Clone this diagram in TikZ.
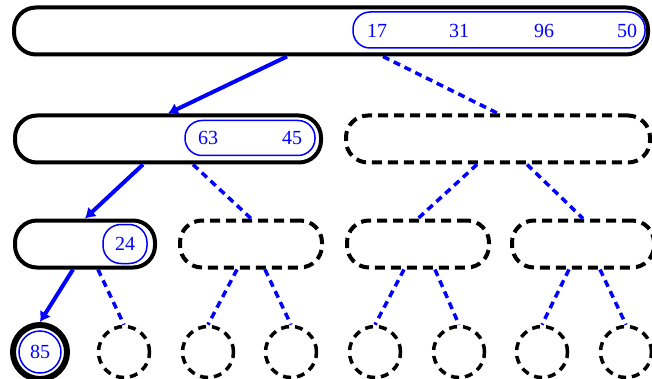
\documentclass[tikz,border=0pt]{standalone}
\usepackage{fontspec}
\setmainfont{Liberation Serif}
\usetikzlibrary{arrows.meta,calc}
\begin{document}
\begin{tikzpicture}[x=1pt,y=-1pt,
 solidbox/.style={draw=black,line width=4pt,rounded corners=22pt,minimum height=47pt,inner sep=0pt},
 dashbox/.style={solidbox,dash pattern=on 10pt off 6pt},
 inbox/.style={draw=blue,line width=1.5pt,rounded corners=17pt,minimum height=36pt,inner sep=0pt},
 num/.style={text=blue,font=\fontsize{20}{20}\selectfont,inner sep=0pt},
 leafc/.style={circle,draw=black,line width=3.5pt,dash pattern=on 8pt off 6pt,minimum size=51pt,inner sep=0pt},
 tree/.style={draw=blue,line width=4pt,-{Latex[length=10pt,width=13pt]}},
 ghost/.style={draw=blue,line width=3.5pt,dash pattern=on 7pt off 5pt},
]
\useasboundingbox (0,0) rectangle (652,379);
% level 0
\node[solidbox,minimum width=634pt] (r0) at (331,31) {};
\node[inbox,minimum width=292pt] (r0in) at (499,30) {};
\node[num] (n17) at (377,31) {17};
\node[num] (n31) at (459,31) {31};
\node[num] (n96) at (544,31) {96};
\node[num] (n50) at (627,31) {50};
% level 1
\node[solidbox,minimum width=306pt] (r1a) at (168,139) {};
\node[inbox,minimum width=130pt,minimum height=35pt] (r1ain) at (250,138) {};
\node[num] (n63) at (208,138) {63};
\node[num] (n45) at (292,138) {45};
\node[dashbox,minimum width=304pt] (r1b) at (498,139) {};
% level 2
\node[solidbox,minimum width=140pt] (r2a) at (85,244) {};
\node[draw=blue,line width=1.5pt,rounded corners=18pt,minimum width=44pt,minimum height=39pt,inner sep=0pt] (r2ain) at (125,244) {};
\node[num] (n24) at (125,244) {24};
\node[dashbox,minimum width=142pt] (r2b) at (251,244) {};
\node[dashbox,minimum width=142pt] (r2c) at (418,244) {};
\node[dashbox,minimum width=142pt] (r2d) at (583,244) {};
% level 3
\node[circle,draw=black,line width=6pt,minimum size=54pt,inner sep=0pt] (l1) at (40,352) {};
\node[circle,draw=blue,line width=1.5pt,minimum size=42pt,inner sep=0pt] (l1in) at (40,352) {};
\node[num] (n85) at (40,352) {85};
\node[leafc] (l2) at (124,352) {};
\node[leafc] (l3) at (208,352) {};
\node[leafc] (l4) at (291,352) {};
\node[leafc] (l5) at (375,352) {};
\node[leafc] (l6) at (459,352) {};
\node[leafc] (l7) at (542,352) {};
\node[leafc] (l8) at (626,352) {};
% connectors
\draw[tree] ([xshift=-44pt]r0.south) -- (r1a.north);
\draw[ghost] ([xshift=52pt]r0.south) -- (r1b.north);
\draw[tree] ([xshift=-25pt]r1a.south) -- (r2a.north);
\draw[ghost] ([xshift=25pt]r1a.south) -- (r2b.north);
\draw[ghost] ([xshift=-21pt]r1b.south) -- (r2c.north);
\draw[ghost] ([xshift=29pt]r1b.south) -- (r2d.north);
\draw[tree] ([xshift=-12pt]r2a.south) -- (l1.north);
\draw[ghost] ([xshift=13pt]r2a.south) -- (l2.north);
\draw[ghost] ([xshift=-14pt]r2b.south) -- (l3.north);
\draw[ghost] ([xshift=14pt]r2b.south) -- (l4.north);
\draw[ghost] ([xshift=-14pt]r2c.south) -- (l5.north);
\draw[ghost] ([xshift=17pt]r2c.south) -- (l6.north);
\draw[ghost] ([xshift=-14pt]r2d.south) -- (l7.north);
\draw[ghost] ([xshift=17pt]r2d.south) -- (l8.north);
\end{tikzpicture}
\end{document}
